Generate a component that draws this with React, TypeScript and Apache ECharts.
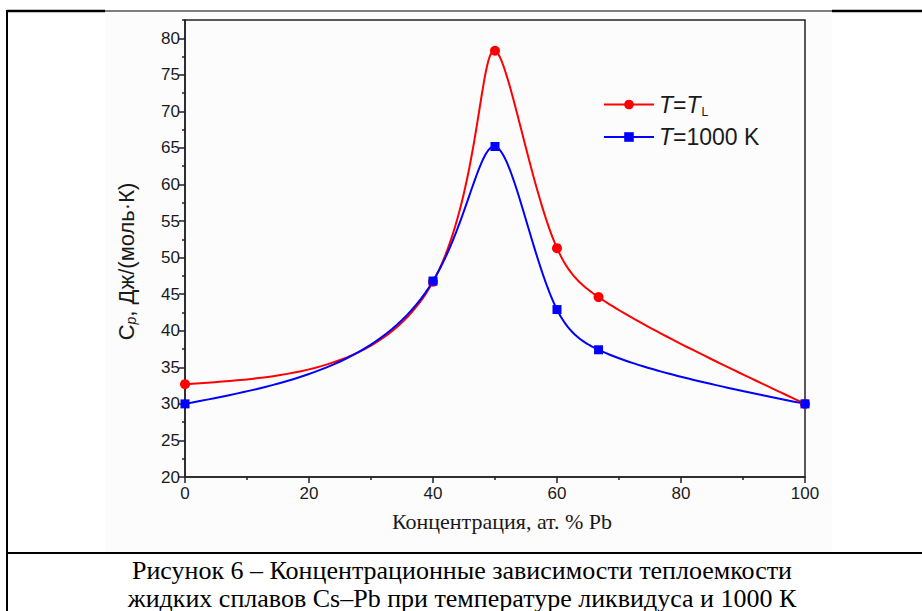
import React, { useEffect, useRef } from "react";
import * as echarts from "echarts";

const concentration = [0, 40, 50, 60, 66.7, 100];
const cpLiquidus = [32.7, 46.7, 78.3, 51.3, 44.6, 30.0];
const cp1000 = [30.0, 46.8, 65.2, 42.9, 37.4, 30.0];
const seriesNames = ["T=TL", "T=1000 K"];
const seriesColors = ["#ff0000", "#0000ff"];
const yMajorTicks = [20, 25, 30, 35, 40, 45, 50, 55, 60, 65, 70, 75, 80];
const yMinorTicks = [22.5, 27.5, 32.5, 37.5, 42.5, 47.5, 52.5, 57.5, 62.5, 67.5, 72.5, 77.5, 82.5];
const xAxisTitle = "Концентрация, ат. % Pb";
const captionLines = [
  "Рисунок 6 – Концентрационные зависимости теплоемкости",
  "жидких сплавов Cs–Pb при температуре ликвидуса и 1000 К",
];

// Natural cubic spline second derivatives for values v over knots t
function splineM(t: number[], v: number[]): number[] {
  const n = t.length;
  const M = new Array(n).fill(0);
  if (n < 3) return M;
  const a: number[] = [], b: number[] = [], c: number[] = [], d: number[] = [];
  for (let i = 1; i < n - 1; i++) {
    const h0 = t[i] - t[i - 1];
    const h1 = t[i + 1] - t[i];
    a.push(h0);
    b.push(2 * (h0 + h1));
    c.push(h1);
    d.push(6 * ((v[i + 1] - v[i]) / h1 - (v[i] - v[i - 1]) / h0));
  }
  const m = b.length;
  for (let i = 1; i < m; i++) {
    const w = a[i] / b[i - 1];
    b[i] -= w * c[i - 1];
    d[i] -= w * d[i - 1];
  }
  const x = new Array(m).fill(0);
  x[m - 1] = d[m - 1] / b[m - 1];
  for (let i = m - 2; i >= 0; i--) x[i] = (d[i] - c[i] * x[i + 1]) / b[i];
  for (let i = 0; i < m; i++) M[i + 1] = x[i];
  return M;
}

// Parametric cubic spline through pixel points
function splinePath(pts: number[][], alpha = 0.7, steps = 40): number[][] {
  const n = pts.length;
  const t = [0];
  for (let i = 1; i < n; i++) {
    const dx = pts[i][0] - pts[i - 1][0];
    const dy = pts[i][1] - pts[i - 1][1];
    t.push(t[i - 1] + Math.pow(dx * dx + dy * dy, alpha / 2));
  }
  const xs = pts.map((p) => p[0]);
  const ys = pts.map((p) => p[1]);
  const Mx = splineM(t, xs);
  const My = splineM(t, ys);
  const evalS = (v: number[], M: number[], i: number, tt: number) => {
    const h = t[i + 1] - t[i];
    const A = t[i + 1] - tt;
    const B = tt - t[i];
    return (
      (M[i] * A * A * A) / (6 * h) +
      (M[i + 1] * B * B * B) / (6 * h) +
      (v[i] / h - (M[i] * h) / 6) * A +
      (v[i + 1] / h - (M[i + 1] * h) / 6) * B
    );
  };
  const out: number[][] = [pts[0]];
  for (let i = 0; i < n - 1; i++) {
    for (let s = 1; s <= steps; s++) {
      const tt = t[i] + ((t[i + 1] - t[i]) * s) / steps;
      out.push([evalS(xs, Mx, i, tt), evalS(ys, My, i, tt)]);
    }
  }
  return out;
}

export default function App() {
  const ref = useRef<HTMLDivElement>(null);
  useEffect(() => {
    if (!ref.current) return;
    const chart = echarts.init(ref.current, null, { renderer: "svg" });
    const ink = "#1a1a1a";
    const axisLine = { lineStyle: { color: "#222", width: 1.5 } };
    const toPairs = (ys: number[]) => concentration.map((x, i) => [x, ys[i]]);
    const curveSeries = (ys: number[], color: string, name: string) => ({
      name,
      type: "custom",
      coordinateSystem: "cartesian2d",
      data: toPairs(ys),
      encode: { x: 0, y: 1 },
      z: 1,
      silent: true,
      renderItem: (params: any, api: any) => {
        if (params.dataIndex !== 0) return null;
        const pix = concentration.map((x, i) => api.coord([x, ys[i]]));
        return {
          type: "polyline",
          shape: { points: splinePath(pix) },
          style: { stroke: color, lineWidth: 2, fill: "none" },
        };
      },
    });
    chart.setOption({
      animation: false,
      backgroundColor: "#ffffff",
      grid: {
        left: 185,
        right: 117,
        top: 20,
        bottom: 134,
        show: true,
        borderColor: "#222",
        borderWidth: 1.5,
        backgroundColor: "transparent",
      },
      xAxis: {
        type: "value",
        min: 0,
        max: 100,
        interval: 20,
        axisLine,
        axisTick: { show: true, length: 6, lineStyle: { color: "#222", width: 1.5 } },
        minorTick: { show: true, splitNumber: 2, length: 3, lineStyle: { color: "#222", width: 1.5 } },
        splitLine: { show: false },
        axisLabel: { fontFamily: "Liberation Sans", fontSize: 17, color: ink, margin: 8 },
        name: xAxisTitle,
        nameLocation: "middle",
        nameGap: 33,
        nameTextStyle: { fontFamily: "Liberation Serif", fontSize: 22, color: ink, padding: [0, 0, 0, 14] },
      },
      yAxis: [
        {
          type: "value",
          position: "left",
          min: 20,
          max: 82.5,
          axisLine,
          axisTick: { show: true, length: 6, customValues: yMajorTicks, lineStyle: { color: "#222", width: 1.5 } },
          splitLine: { show: false },
          axisLabel: { customValues: yMajorTicks, fontFamily: "Liberation Sans", fontSize: 17, color: ink, margin: 5 },
          name: "{c|C}{p|p}{c|, Дж/(моль·К)}",
          nameLocation: "middle",
          nameRotate: 90,
          nameGap: 47,
          nameTextStyle: {
            fontFamily: "Liberation Sans",
            color: ink,
            padding: [0, 26, 0, 0],
            rich: {
              c: { fontFamily: "Liberation Sans", fontSize: 22, color: ink },
              p: { fontFamily: "Liberation Sans", fontSize: 14, fontStyle: "italic", color: ink, padding: [10, 0, 0, 0] },
            },
          },
        },
        {
          type: "value",
          position: "left",
          min: 20,
          max: 82.5,
          axisLine: { show: false },
          axisTick: { show: true, length: 3, customValues: yMinorTicks, lineStyle: { color: "#222", width: 1.5 } },
          axisLabel: { show: false },
          splitLine: { show: false },
        },
      ],
      legend: {
        orient: "vertical",
        left: 603,
        top: 93,
        padding: 0,
        itemWidth: 50,
        itemHeight: 12,
        itemGap: 8,
        data: seriesNames.map((n, i) => ({
          name: n,
          lineStyle: { color: seriesColors[i], width: 2, opacity: 1 },
        })),
        formatter: (name: string) =>
          name === seriesNames[0] ? "{i|T}={i|T}{s|L}" : "{i|T}=1000 K",
        textStyle: {
          fontFamily: "Liberation Sans",
          fontSize: 23,
          color: ink,
          rich: {
            i: { fontFamily: "Liberation Sans", fontSize: 23, fontStyle: "italic", color: ink },
            s: { fontFamily: "Liberation Sans", fontSize: 12, color: ink, padding: [14, 0, 0, 1] },
          },
        },
      },
      series: [
        curveSeries(cpLiquidus, seriesColors[0], "curve-TL"),
        curveSeries(cp1000, seriesColors[1], "curve-1000"),
        {
          name: seriesNames[0],
          type: "line",
          data: toPairs(cpLiquidus),
          symbol: "circle",
          symbolSize: 10,
          color: seriesColors[0],
          lineStyle: { width: 2, color: seriesColors[0], opacity: 0 },
          itemStyle: { color: seriesColors[0] },
          z: 3,
        },
        {
          name: seriesNames[1],
          type: "line",
          data: toPairs(cp1000),
          symbol: "rect",
          symbolSize: 9,
          color: seriesColors[1],
          lineStyle: { width: 2, color: seriesColors[1], opacity: 0 },
          itemStyle: { color: seriesColors[1] },
          z: 4,
        },
      ],
      graphic: [
        { type: "rect", z: -10, silent: true, shape: { x: 105, y: 12, width: 727, height: 540 }, style: { fill: "#fcfcfc" } },
        { type: "line", z: 50, silent: true, shape: { x1: 7, y1: 11, x2: 105, y2: 11 }, style: { stroke: "#000", lineWidth: 2.5 } },
        { type: "line", z: 50, silent: true, shape: { x1: 105, y1: 11, x2: 832, y2: 11 }, style: { stroke: "#000", lineWidth: 1 } },
        { type: "line", z: 50, silent: true, shape: { x1: 832, y1: 11, x2: 922, y2: 11 }, style: { stroke: "#000", lineWidth: 2.5 } },
        { type: "line", z: 50, silent: true, shape: { x1: 7, y1: 10, x2: 7, y2: 611 }, style: { stroke: "#000", lineWidth: 2 } },
        { type: "line", z: 50, silent: true, shape: { x1: 6, y1: 553, x2: 922, y2: 553 }, style: { stroke: "#000", lineWidth: 2 } },
        {
          type: "text",
          z: 50,
          x: 462,
          y: 570,
          style: { text: captionLines[0], fontFamily: "Liberation Serif", fontSize: 26, fill: "#000", align: "center", verticalAlign: "middle" },
        },
        {
          type: "text",
          z: 50,
          x: 462,
          y: 598,
          style: { text: captionLines[1], fontFamily: "Liberation Serif", fontSize: 26, fill: "#000", align: "center", verticalAlign: "middle" },
        },
      ],
    });
    return () => chart.dispose();
  }, []);
  return (
    <div
      ref={ref}
      style={{ position: "absolute", left: 0, top: 0, width: 922, height: 611 }}
    />
  );
}
